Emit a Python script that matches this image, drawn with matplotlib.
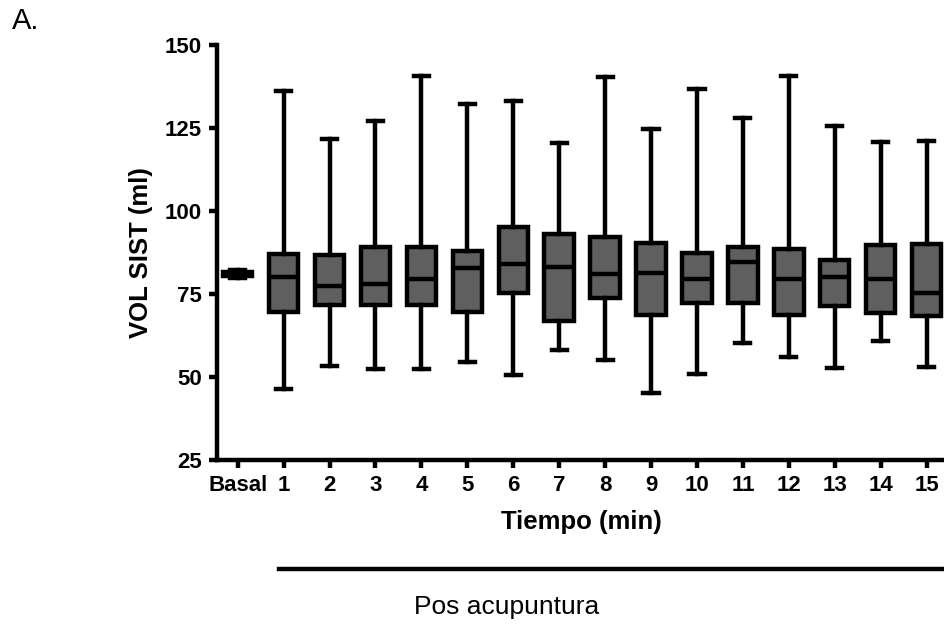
import matplotlib
matplotlib.use("Agg")
import matplotlib.pyplot as plt

plt.rcParams['font.family'] = ['Liberation Sans', 'DejaVu Sans']

# data
labels = ['Basal', '1', '2', '3', '4', '5', '6', '7', '8', '9', '10', '11', '12', '13', '14', '15']
wlo = [79.8, 46.4, 53.4, 52.4, 52.4, 54.4, 50.6, 58.1, 55.1, 45.1, 50.9, 60.3, 56.1, 52.6, 60.8, 53.0]
q1 = [80.4, 69.7, 71.7, 71.7, 71.7, 69.7, 75.2, 66.9, 73.9, 68.7, 72.2, 72.4, 68.7, 71.4, 69.4, 68.5]
med = [81.0, 80.2, 77.4, 77.9, 79.4, 82.7, 84.0, 83.0, 81.0, 81.4, 79.5, 84.7, 79.5, 80.0, 79.5, 75.4]
q3 = [81.6, 87.0, 86.7, 89.1, 89.1, 88.0, 95.3, 93.1, 92.1, 90.3, 87.5, 89.1, 88.5, 85.2, 89.8, 90.0]
whi = [82.2, 136.2, 121.7, 127.2, 140.8, 132.2, 133.0, 120.4, 140.3, 124.6, 136.6, 127.9, 140.8, 125.6, 120.7, 121.2]

stats = []
for i in range(len(labels)):
    stats.append(dict(whislo=wlo[i], q1=q1[i], med=med[i], q3=q3[i], whishi=whi[i], label=labels[i]))

fig = plt.figure(figsize=(9.45, 6.31), dpi=100)
ax = fig.add_axes([217 / 945, 1 - 460 / 631, 1 - 217 / 945, (460 - 45) / 631])

lw = 3.2
ax.bxp(stats, positions=range(len(labels)), widths=0.64, capwidths=0.33,
       showfliers=False, patch_artist=True,
       boxprops=dict(facecolor='#5f5f5f', edgecolor='black', linewidth=lw),
       medianprops=dict(color='black', linewidth=lw),
       whiskerprops=dict(color='black', linewidth=lw),
       capprops=dict(color='black', linewidth=lw))

ax.set_xlim(-0.45, 15.4)
ax.set_ylim(25, 150)
ax.set_yticks([25, 50, 75, 100, 125, 150])
ax.set_xticks(range(len(labels)))
ax.set_xticklabels(labels)

for s in ['top', 'right']:
    ax.spines[s].set_visible(False)
for s in ['left', 'bottom']:
    ax.spines[s].set_linewidth(3.2)
ax.tick_params(width=3.2, length=6, labelsize=16, pad=5)
for t in ax.get_xticklabels() + ax.get_yticklabels():
    t.set_fontweight('bold')

ax.set_ylabel('VOL SIST (ml)', fontsize=18.5, fontweight='bold', labelpad=8)
ax.set_xlabel('Tiempo (min)', fontsize=18.5, fontweight='bold', labelpad=10)

# bracket line under the post-acupuncture times
fig.add_artist(plt.Line2D([279 / 945, 1.0], [1 - 569 / 631, 1 - 569 / 631],
                          color='black', linewidth=3.2))
fig.text(507 / 945, 1 - 607 / 631, 'Pos acupuntura', fontsize=19,
         ha='center', va='center')
fig.text(12 / 945, 1 - 21 / 631, 'A.', fontsize=21, ha='left', va='center')

plt.savefig('out.png', dpi=100)
